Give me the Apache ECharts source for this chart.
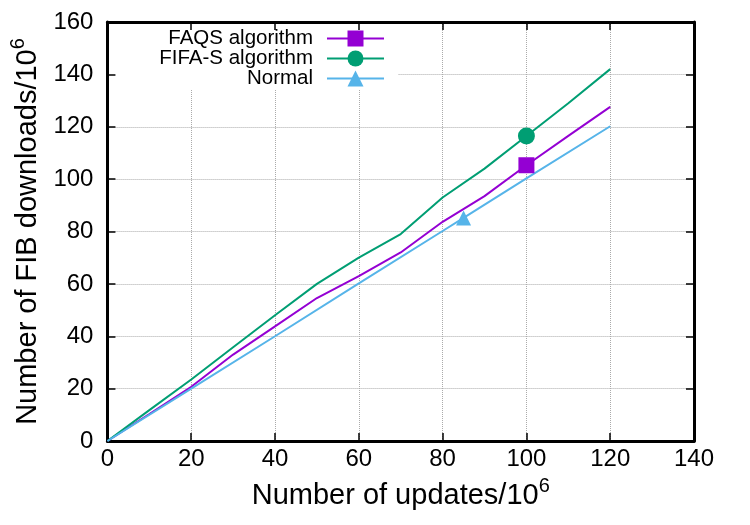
<!DOCTYPE html>
<html>
<head>
<meta charset="utf-8">
<script src="https://cdn.jsdelivr.net/npm/echarts@6/dist/echarts.min.js"></script>
<style>
  html, body { margin: 0; padding: 0; background: #fff; }
  #chart { width: 750px; height: 525px; }
</style>
</head>
<body>
<div id="chart"></div>
<script>
// 数据
const updates = [0, 10, 20, 30, 40, 50, 60, 70, 80, 90, 100, 110, 120];
const faqs = [0, 10.3, 20.7, 33, 43.8, 54.6, 63, 72, 83.7, 93.5, 105.3, 116.5, 127.6];
const fifaS = [0, 11.8, 23.5, 35.8, 48, 60, 70, 79, 93, 104, 116.5, 129, 142];
const normalUpdates = [0, 20, 40, 60, 80, 85, 100, 120];
const normal = [0, 20, 40, 60.2, 80.2, 85.2, 100.3, 120.2];
// 每条线只在一个点上画标记
const faqsMarkAt = 100;
const fifaMarkAt = 100;
const normalMarkAt = 85;

const FONT = "'Liberation Sans', Arial, sans-serif";

function toData(xs, ys, markX) {
  return xs.map((x, i) => {
    const item = { value: [x, ys[i]] };
    if (x !== markX) item.symbol = 'none';
    return item;
  });
}

const chart = echarts.init(document.getElementById('chart'));

const borderAxis = {
  type: 'value',
  min: 0,
  interval: 20,
  axisLine: { show: true, onZero: false, lineStyle: { color: '#000', width: 3 } },
  axisTick: { show: true, inside: true, length: 8, lineStyle: { color: '#000', width: 1.5 } },
  splitLine: { show: false },
  z: 3,
};
const gridAxis = {
  type: 'value',
  min: 0,
  interval: 20,
  axisLine: { show: false },
  axisTick: { show: false },
  axisLabel: { show: false },
  splitLine: { show: true, lineStyle: { color: '#aaa', type: 'dotted', width: 1 } },
  z: 0,
};

// 标题里的上标 10^6
const nameStyle = {
  fontSize: 29,
  color: '#000',
  fontFamily: FONT,
  rich: { sup: { fontSize: 20, color: '#000', fontFamily: FONT, padding: [0, 0, 20, 0] } },
};

const legendBase = {
  orient: 'horizontal',
  align: 'right',
  right: 365,
  itemWidth: 57,
  itemHeight: 20,
  textStyle: { fontSize: 20.5, color: '#000', fontFamily: FONT, padding: [0, 9, 0, 0] },
  padding: 0,
};

const option = {
  animation: false,
  grid: { left: 107, right: 56, top: 22, bottom: 84 },
  graphic: [
    {
      type: 'rect',
      z: 1,
      shape: { x: 109, y: 24, width: 289, height: 66 },
      style: { fill: '#fff' },
    },
  ],
  legend: [
    Object.assign({}, legendBase, { top: 28, data: ['FAQS algorithm'] }),
    Object.assign({}, legendBase, { top: 48, data: ['FIFA-S algorithm'] }),
    Object.assign({}, legendBase, { top: 68, data: ['Normal'] }),
  ],
  xAxis: [
    Object.assign({}, borderAxis, {
      max: 140,
      position: 'bottom',
      axisLabel: { fontSize: 24, color: '#000', fontFamily: FONT, margin: 6 },
      name: 'Number of updates/10{sup|6}',
      nameLocation: 'middle',
      nameGap: 35,
      nameTextStyle: nameStyle,
    }),
    Object.assign({}, borderAxis, { max: 140, position: 'top', axisLabel: { show: false } }),
    Object.assign({}, gridAxis, { max: 140, position: 'bottom' }),
  ],
  yAxis: [
    Object.assign({}, borderAxis, {
      max: 160,
      position: 'left',
      axisLabel: { fontSize: 24, color: '#000', fontFamily: FONT, margin: 14 },
      name: 'Number of FIB downloads/10{sup|6}',
      nameLocation: 'middle',
      nameGap: 53,
      nameTextStyle: nameStyle,
    }),
    Object.assign({}, borderAxis, { max: 160, position: 'right', axisLabel: { show: false } }),
    Object.assign({}, gridAxis, { max: 160, position: 'left' }),
  ],
  series: [
    {
      name: 'FAQS algorithm',
      type: 'line',
      symbol: 'rect',
      symbolSize: 16,
      showSymbol: true,
      color: '#9400d3',
      lineStyle: { width: 2 },
      data: toData(updates, faqs, faqsMarkAt),
    },
    {
      name: 'FIFA-S algorithm',
      type: 'line',
      symbol: 'circle',
      symbolSize: 17,
      showSymbol: true,
      color: '#009e73',
      lineStyle: { width: 2 },
      data: toData(updates, fifaS, fifaMarkAt),
    },
    {
      name: 'Normal',
      type: 'line',
      symbol: 'triangle',
      symbolSize: 15,
      showSymbol: true,
      color: '#56b4e9',
      lineStyle: { width: 2 },
      data: toData(normalUpdates, normal, normalMarkAt),
    },
  ],
};

chart.setOption(option);
</script>
</body>
</html>
